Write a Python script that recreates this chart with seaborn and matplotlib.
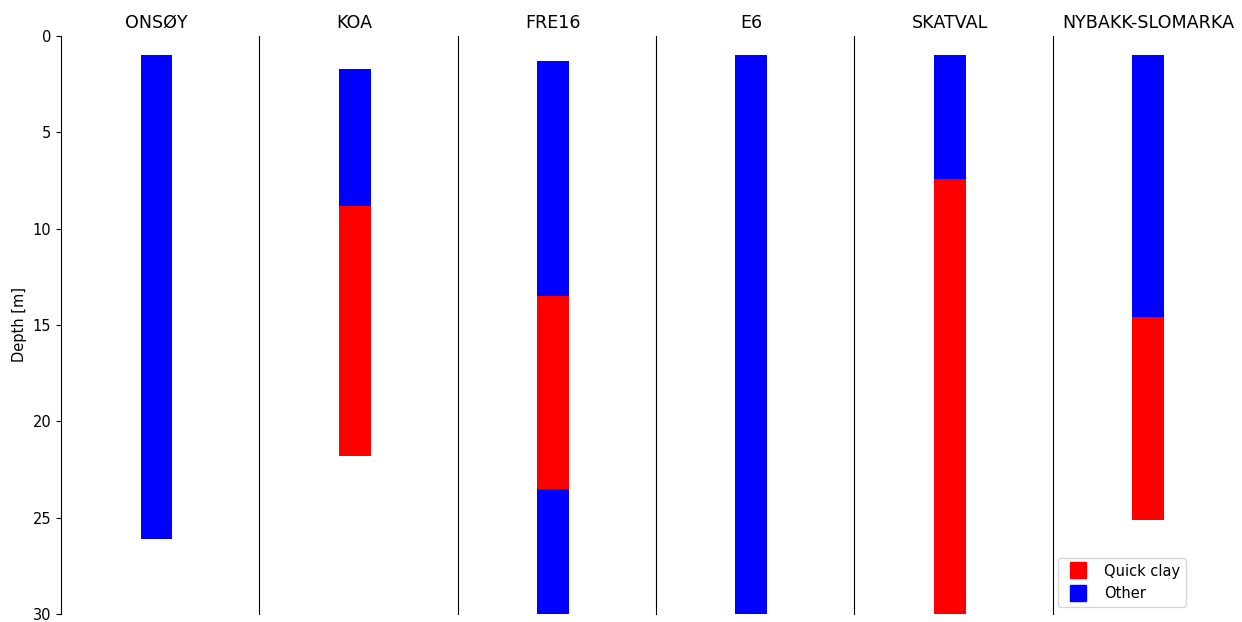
import matplotlib
matplotlib.use("Agg")
import matplotlib.pyplot as plt
from matplotlib.lines import Line2D
import seaborn as sns

sns.set_style("white")
plt.rcParams["font.family"] = ["DejaVu Sans"]
plt.rcParams.update({"text.color": "black", "axes.labelcolor": "black",
                     "xtick.color": "black", "ytick.color": "black"})

# Sites shown as columns, left to right
sites = ["ONSØY", "KOA", "FRE16", "E6", "SKATVAL", "NYBAKK-SLOMARKA"]

# Soil layers: site, top depth [m], base depth [m], class
layer_site = ["ONSØY", "KOA", "KOA", "FRE16", "FRE16", "FRE16",
              "E6", "SKATVAL", "SKATVAL", "NYBAKK-SLOMARKA", "NYBAKK-SLOMARKA"]
layer_top = [1.0, 1.7, 8.8, 1.3, 13.5, 23.5, 1.0, 1.0, 7.4, 1.0, 14.6]
layer_base = [26.1, 8.8, 21.8, 13.5, 23.5, 30.0, 30.0, 7.4, 30.0, 14.6, 25.1]
layer_class = ["Other", "Other", "Quick clay", "Other", "Quick clay", "Other",
               "Other", "Other", "Quick clay", "Other", "Quick clay"]

classes = ["Quick clay", "Other"]
palette = {"Quick clay": "#ff0000", "Other": "#0000ff"}

depth_ticks = [0, 5, 10, 15, 20, 25, 30]

W, H = 1242, 622
fig = plt.figure(figsize=(W / 100, H / 100), dpi=100)

left_px, top_px, bottom_px = 61, 36, 614
col_px = 198.3
ax_px = 191.0
axes = []
for i, site in enumerate(sites):
    x0 = (left_px + i * col_px) / W
    ax = fig.add_axes([x0, (H - bottom_px) / H, ax_px / W, (bottom_px - top_px) / H])
    axes.append(ax)
    for j, s in enumerate(layer_site):
        if s != site:
            continue
        ax.bar(0, layer_base[j] - layer_top[j], bottom=layer_top[j], width=0.167,
               color=palette[layer_class[j]], linewidth=0)
    ax.set_xlim(-0.5, 0.5)
    ax.set_ylim(30, 0)
    ax.set_xticks([])
    ax.set_title(site, fontsize=12.6)
    for side in ["top", "right", "bottom"]:
        ax.spines[side].set_visible(False)
    ax.spines["left"].set_color("black")
    ax.spines["left"].set_linewidth(0.8)
    if i == 0:
        ax.set_yticks(depth_ticks)
        ax.set_ylabel("Depth [m]", fontsize=10.5)
        ax.tick_params(axis="y", left=True, length=3.5, width=0.8, labelsize=10.5)
    else:
        ax.set_yticks([])

handles = [Line2D([0], [0], marker="s", linestyle="none", markersize=11.5,
                  markerfacecolor=palette[c], markeredgecolor=palette[c])
           for c in classes]
axes[-1].legend(handles, classes, loc="lower right", bbox_to_anchor=(0.738, 0.0),
                fontsize=10.5, frameon=True)

fig.savefig("out.png", dpi=100)
